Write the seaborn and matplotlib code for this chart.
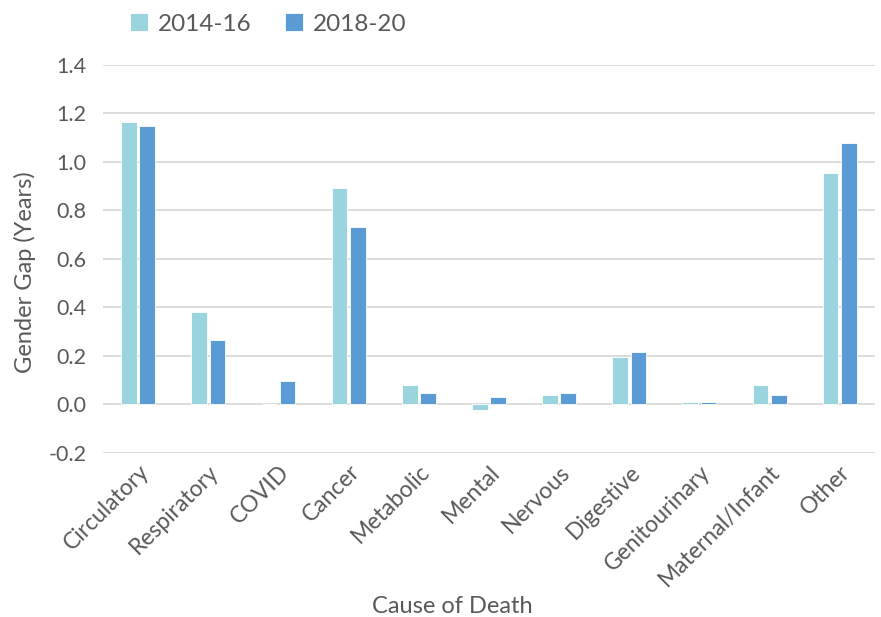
import seaborn as sns
import matplotlib.pyplot as plt
import pandas as pd

# Datos
causes = ['Circulatory', 'Respiratory', 'COVID', 'Cancer', 'Metabolic', 'Mental',
          'Nervous', 'Digestive', 'Genitourinary', 'Maternal/Infant', 'Other']
gap_2014_16 = [1.165, 0.38, 0.0, 0.891, 0.081, -0.022, 0.037, 0.195, 0.010, 0.081, 0.953]
gap_2018_20 = [1.149, 0.266, 0.098, 0.733, 0.045, 0.029, 0.045, 0.215, 0.010, 0.037, 1.077]
periods = ['2014-16', '2018-20']

df = pd.DataFrame({
    'cause': causes * 2,
    'gap': gap_2014_16 + gap_2018_20,
    'period': [periods[0]] * len(causes) + [periods[1]] * len(causes),
})

sns.set_style('white')
plt.rcParams['font.family'] = ['Lato', 'DejaVu Sans']
txt = '#595959'

fig = plt.figure(figsize=(8.81, 6.17), dpi=100)
ax = fig.add_axes([0.117, 0.266, 0.876, 0.629])

sns.barplot(data=df, x='cause', y='gap', hue='period', order=causes,
            palette=['#9AD4DF', '#5B9BD5'], saturation=1, width=0.52, gap=0.14,
            edgecolor='white', linewidth=0.6, ax=ax)

ax.set_ylim(-0.2, 1.4)
ax.set_yticks([-0.2, 0.0, 0.2, 0.4, 0.6, 0.8, 1.0, 1.2, 1.4])
ax.set_yticklabels([f'{v:.1f}' for v in ax.get_yticks()])
ax.yaxis.grid(True, color='#D9D9D9', linewidth=1.3)
ax.set_axisbelow(True)
for s in ax.spines.values():
    s.set_visible(False)

ax.tick_params(axis='y', colors=txt, labelsize=15.5, length=0, pad=12)
ax.tick_params(axis='x', colors=txt, labelsize=16.5, length=0, pad=6)
plt.setp(ax.get_xticklabels(), rotation=45, ha='right', rotation_mode='anchor')

ax.set_xlabel('Cause of Death', fontsize=17, color=txt)
ax.set_ylabel('Gender Gap (Years)', fontsize=17, color=txt)
ax.xaxis.set_label_coords(0.453, -0.368)
ax.yaxis.set_label_coords(-0.087, 0.466)

ax.legend(loc='center', bbox_to_anchor=(0.214, 1.105), ncol=2, frameon=False,
          fontsize=17.5, labelcolor=txt, handlelength=0.75, handleheight=0.75,
          columnspacing=1.4, handletextpad=0.4)

fig.savefig('out.png', dpi=100)
